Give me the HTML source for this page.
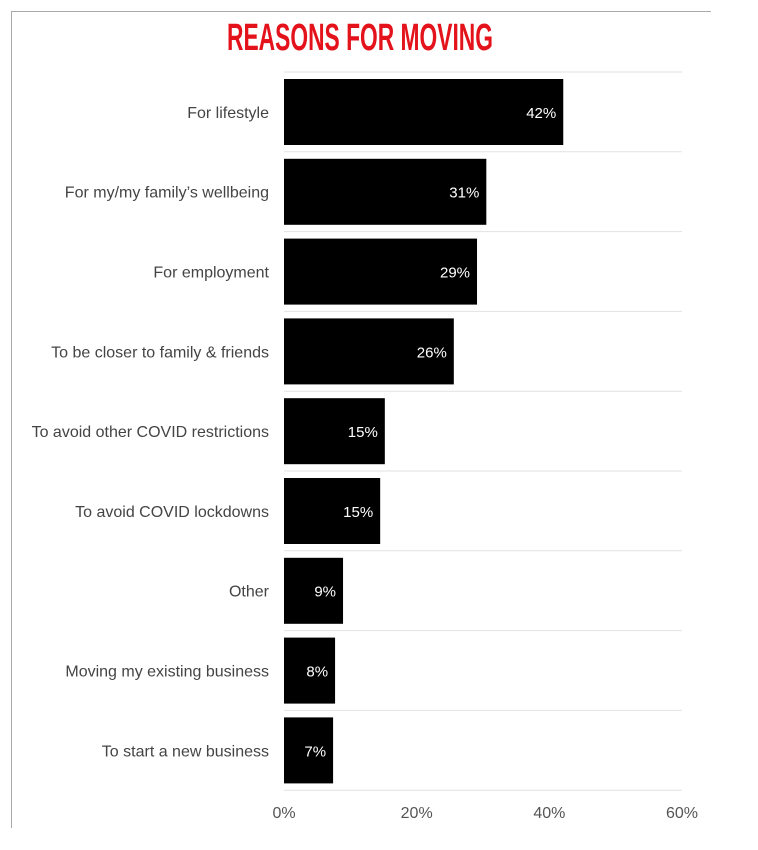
<!DOCTYPE html>
<html><head><meta charset="utf-8"><style>
body{margin:0;background:#fff;width:758px;height:845px;overflow:hidden;font-family:"Liberation Sans",sans-serif;}
svg text{font-family:"Liberation Sans",sans-serif;}
</style></head><body>
<svg id="chart" width="758" height="845" xmlns="http://www.w3.org/2000/svg">
<line x1="11" y1="11.5" x2="711" y2="11.5" stroke="#aaa" stroke-width="1"/>
<line x1="11.5" y1="11" x2="11.5" y2="828" stroke="#aaa" stroke-width="1"/>
<text x="360" y="50" text-anchor="middle" font-size="38" font-weight="bold" fill="#e3121b" transform="translate(360,0) scale(0.6,1) translate(-360,0)">REASONS FOR MOVING</text>
<g id="grid"></g><g id="bars"></g><g id="axis"></g>
</svg>
<script>
const categories=["For lifestyle","For my/my family’s wellbeing","For employment","To be closer to family & friends","To avoid other COVID restrictions","To avoid COVID lockdowns","Other","Moving my existing business","To start a new business"];
const values=[42.1,30.5,29.1,25.6,15.2,14.5,8.9,7.7,7.4];
const ticks=[0,20,40,60];
const x0=284,x1=682,xMax=60,y0=72,rowH=79.8;
const xs=v=>x0+(v/xMax)*(x1-x0);
const NS="http://www.w3.org/2000/svg";
const grid=document.getElementById('grid'),bars=document.getElementById('bars'),axis=document.getElementById('axis');
function mk(tag,attrs,parent){const e=document.createElementNS(NS,tag);for(const k in attrs)e.setAttribute(k,attrs[k]);parent.appendChild(e);return e;}
for(let i=0;i<=categories.length;i++){
  const g=mk('line',{x1:x0,x2:x1,y1:y0+i*rowH,y2:y0+i*rowH,stroke:'#e2e2e2','stroke-width':1},grid);
  
  
}
categories.forEach((c,i)=>{
  const y=y0+i*rowH, cy=y+rowH/2;
  const r=mk('rect',{x:x0,y:y+7,width:xs(values[i])-x0,height:66,fill:'#000'},bars);
  
  
  const t=mk('text',{x:xs(values[i])-7,y:cy+6,'text-anchor':'end','font-size':15,fill:'#fff'},bars);
  t.textContent=Math.round(values[i])+'%';
  
  
  const l=mk('text',{x:269,y:cy+6,'text-anchor':'end','font-size':16,fill:'#444'},axis);
  l.textContent=c;
  
  
});
ticks.forEach(v=>{
  const t=mk('text',{x:xs(v),y:818,'text-anchor':'middle','font-size':16,fill:'#555'},axis);
  t.textContent=v+'%';
  
  
});
</script>
</body></html>
